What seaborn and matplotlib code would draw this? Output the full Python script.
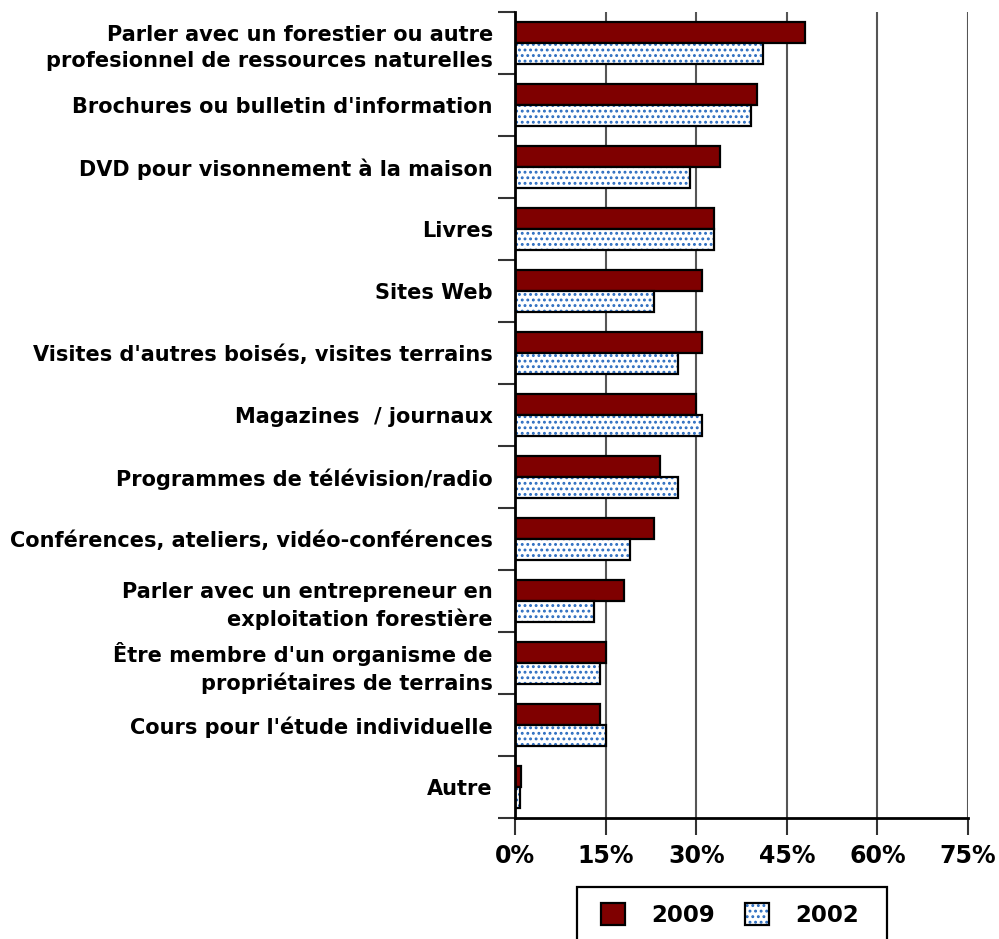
import matplotlib
import matplotlib.pyplot as plt
import matplotlib.colors as mcolors
import pandas as pd
import seaborn as sns
from matplotlib.patches import Rectangle
from matplotlib.ticker import FixedLocator

matplotlib.use("Agg")

CATEGORIES = [
    "Parler avec un forestier ou autre\nprofesionnel de ressources naturelles",
    "Brochures ou bulletin d'information",
    "DVD pour visonnement à la maison",
    "Livres",
    "Sites Web",
    "Visites d'autres boisés, visites terrains",
    "Magazines  / journaux",
    "Programmes de télévision/radio",
    "Conférences, ateliers, vidéo-conférences",
    "Parler avec un entrepreneur en\nexploitation forestière",
    "Être membre d'un organisme de\npropriétaires de terrains",
    "Cours pour l'étude individuelle",
    "Autre",
]
VALUES_2009 = [48, 40, 34, 33, 31, 31, 30, 24, 23, 18, 15, 14, 1]
VALUES_2002 = [41, 39, 29, 33, 23, 27, 31, 27, 19, 13, 14, 15, 0.8]
YEARS = ["2009", "2002"]
X_TICKS = [0, 15, 30, 45, 60, 75]

df = pd.DataFrame({
    "categorie": CATEGORIES * 2,
    "annee": [YEARS[0]] * len(CATEGORIES) + [YEARS[1]] * len(CATEGORIES),
    "pct": VALUES_2009 + VALUES_2002,
})

sns.set_style("white")
plt.rcParams["font.family"] = ["DejaVu Sans"]
plt.rcParams["font.weight"] = "bold"
plt.rcParams["text.color"] = "black"
plt.rcParams["xtick.color"] = "black"
plt.rcParams["ytick.color"] = "black"
plt.rcParams["hatch.linewidth"] = 1.3

fig = plt.figure(figsize=(9.99, 9.39), dpi=100)
ax = fig.add_axes([0.5155, 0.1289, 0.4535, 0.8583])

sns.barplot(
    data=df, y="categorie", x="pct", hue="annee", hue_order=YEARS,
    orient="h", width=0.68, palette=["#7f0000", "white"],
    edgecolor="black", linewidth=1.6, saturation=1, ax=ax,
)

# blue dots on the 2002 bars, black outline kept
dot_color = mcolors.to_rgba("#2a6cc0")
for patch in ax.containers[1]:
    patch.set_hatch("...")
    patch._hatch_color = dot_color

ax.set_xlim(0, 75)
ax.xaxis.set_major_locator(FixedLocator(X_TICKS))
ax.set_xticklabels([f"{t}%" for t in X_TICKS])
ax.grid(axis="x", color="#555555", linewidth=1.5)
ax.grid(axis="y", visible=False)
ax.set_axisbelow(True)

ax.set_xlabel("")
ax.set_ylabel("")
for side in ["top", "right"]:
    ax.spines[side].set_visible(False)
for side in ["left", "bottom"]:
    ax.spines[side].set_color("black")
    ax.spines[side].set_linewidth(2)

ax.yaxis.set_minor_locator(FixedLocator([k - 0.5 for k in range(len(CATEGORIES) + 1)]))
ax.tick_params(axis="y", which="major", length=0, pad=16, labelsize=15)
ax.tick_params(axis="y", which="minor", length=12, width=1.5, color="#333333", left=True)
ax.tick_params(axis="x", which="major", length=12, width=1.5, color="#333333",
               bottom=True, pad=7, labelsize=17)
for lbl in ax.get_yticklabels():
    lbl.set_fontweight("bold")
    lbl.set_multialignment("right")
    lbl.set_linespacing(1.35)
for lbl in ax.get_xticklabels():
    lbl.set_fontweight("bold")

ax.get_legend().remove()
handles = [ax.containers[0][0], ax.containers[1][0]]
fig.legend(
    handles, YEARS, loc="center", bbox_to_anchor=(0.731, 1 - 915 / 939),
    ncol=2, frameon=False, prop={"weight": "bold", "size": 16.5},
    handlelength=1.05, handleheight=1.05, columnspacing=1.3,
    handletextpad=1.15, borderpad=0.3, borderaxespad=0,
)
# legend box runs off the bottom edge of the image
fig.patches.append(Rectangle(
    (577 / 999, -0.05), 310 / 999, 0.05 + 52 / 939, transform=fig.transFigure,
    fill=False, edgecolor="black", linewidth=1.6,
))

fig.savefig("out.png", dpi=100)
